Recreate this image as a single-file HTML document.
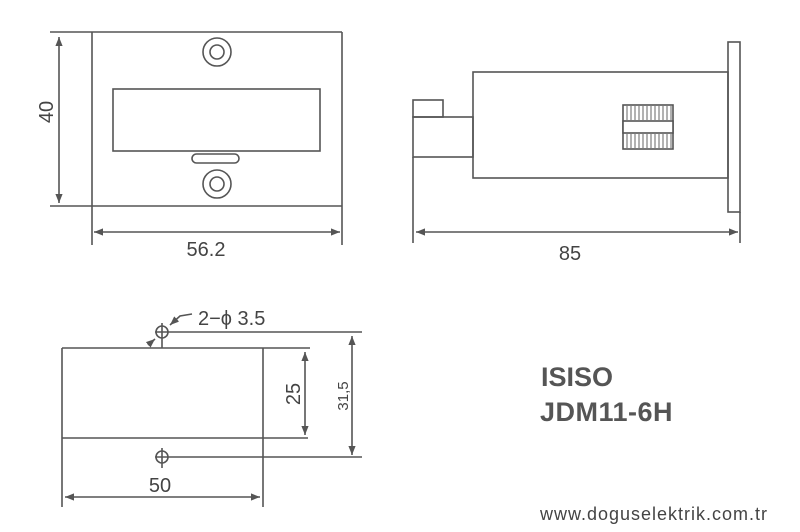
<!DOCTYPE html>
<html><head><style>
body{margin:0;background:#fff;width:800px;height:527px;overflow:hidden}
</style></head><body>
<svg width="800" height="527" viewBox="0 0 800 527" xmlns="http://www.w3.org/2000/svg">
<defs>
<marker id="a" viewBox="0 0 10 10" refX="10" refY="5" markerWidth="9" markerHeight="9" orient="auto-start-reverse" markerUnits="userSpaceOnUse"><path d="M0,1 L10,5 L0,9 z" fill="#555"/></marker>
</defs>
<g stroke="#555" stroke-width="1.6" fill="none">
<line x1="50" y1="32" x2="342" y2="32"/>
<line x1="50" y1="206" x2="342" y2="206"/>
<line x1="92" y1="32" x2="92" y2="245"/>
<line x1="342" y1="32" x2="342" y2="245"/>
<line x1="59" y1="37" x2="59" y2="203" marker-start="url(#a)" marker-end="url(#a)"/>
<circle cx="217" cy="52" r="14"/><circle cx="217" cy="52" r="7"/>
<circle cx="217" cy="184" r="14"/><circle cx="217" cy="184" r="7"/>
<rect x="113" y="89" width="207" height="62"/>
<rect x="192" y="154" width="47" height="9" rx="4.5"/>
<line x1="94" y1="232" x2="340" y2="232" marker-start="url(#a)" marker-end="url(#a)"/>
<rect x="728" y="42" width="12" height="170"/>
<rect x="473" y="72" width="255" height="106"/>
<rect x="413" y="100" width="30" height="17"/>
<rect x="413" y="117" width="60" height="40"/>
<line x1="413" y1="157" x2="413" y2="243"/>
<line x1="740" y1="212" x2="740" y2="243"/>
<line x1="416" y1="232" x2="738" y2="232" marker-start="url(#a)" marker-end="url(#a)"/>
<rect x="623" y="105" width="50" height="44"/>
<rect x="623" y="121" width="50" height="12" fill="#fff"/>
<circle cx="162" cy="332" r="6"/>
<line x1="162" y1="323" x2="162" y2="348"/>
<line x1="155" y1="332" x2="362" y2="332"/>
<line x1="62" y1="348" x2="310" y2="348"/>
<line x1="62" y1="348" x2="62" y2="507"/>
<line x1="263" y1="348" x2="263" y2="507"/>
<line x1="62" y1="438" x2="308" y2="438"/>
<circle cx="162" cy="457" r="6"/>
<line x1="162" y1="448" x2="162" y2="468"/>
<line x1="155" y1="457" x2="362" y2="457"/>
<line x1="305" y1="352" x2="305" y2="435" marker-start="url(#a)" marker-end="url(#a)"/>
<line x1="352" y1="336" x2="352" y2="455" marker-start="url(#a)" marker-end="url(#a)"/>
<line x1="65" y1="497" x2="260" y2="497" marker-start="url(#a)" marker-end="url(#a)"/>
<polyline points="192,314 180,316 170,325" marker-end="url(#a)"/>
<line x1="148" y1="345" x2="155" y2="339" marker-end="url(#a)"/>
</g>
<g stroke="#555" stroke-width="0.9">
<path d="M627 106v14M631 106v14M635 106v14M639 106v14M643 106v14M647 106v14M651 106v14M655 106v14M659 106v14M663 106v14M667 106v14M671 106v14M627 134v14M631 134v14M635 134v14M639 134v14M643 134v14M647 134v14M651 134v14M655 134v14M659 134v14M663 134v14M667 134v14M671 134v14"/>
</g>
<g font-family="Liberation Sans, sans-serif" fill="#444" font-size="20">
<text x="206" y="256" text-anchor="middle">56.2</text>
<text x="570" y="260" text-anchor="middle">85</text>
<text transform="translate(53,112) rotate(-90)" text-anchor="middle">40</text>
<text transform="translate(300,394) rotate(-90)" text-anchor="middle">25</text>
<text transform="translate(348,396) rotate(-90)" text-anchor="middle" font-size="15">31,5</text>
<text x="160" y="492" text-anchor="middle">50</text>
<text x="198" y="325">2−ϕ 3.5</text>
</g>
<g font-family="Liberation Sans, sans-serif" fill="#555" font-weight="bold">
<text x="541" y="386" font-size="27">ISISO</text>
<text x="540" y="421" font-size="27" letter-spacing="0.5">JDM11-6H</text>
<text x="540" y="520" font-size="18" font-weight="normal" fill="#444" textLength="227" lengthAdjust="spacing">www.doguselektrik.com.tr</text>
</g>
</svg>
</body></html>
